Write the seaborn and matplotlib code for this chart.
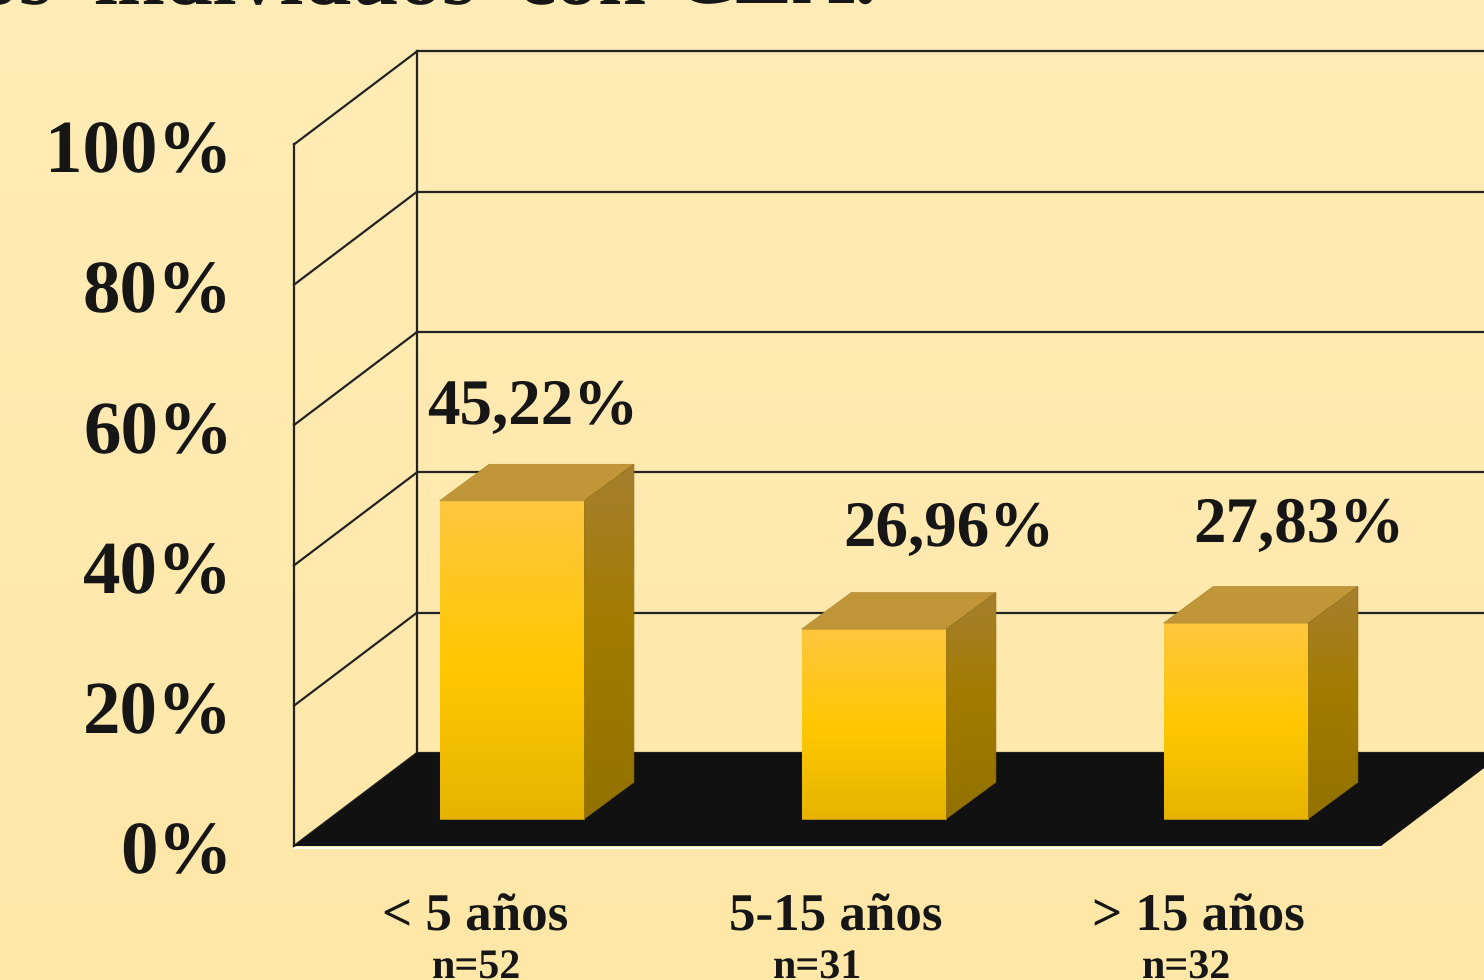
import numpy as np
import matplotlib
matplotlib.use('Agg')
import matplotlib.pyplot as plt
from matplotlib.colors import LinearSegmentedColormap
from matplotlib.patches import Polygon
from matplotlib.transforms import ScaledTranslation
import seaborn as sns

categories = ['< 5 años', '5-15 años', '> 15 años']
sample_sizes = ['n=52', 'n=31', 'n=32']
values = [45.22, 26.96, 27.83]
y_ticks = [0, 20, 40, 60, 80, 100]
title_words = ['los', 'individuos', 'con', 'CEA.']

# Pixel geometry of the picture
W, H = 1484, 980
PX_X = 362.0    # px per category
PX_Y = 7.03     # px per percent
X0_PX, Y0_PX = 512.0, 818.7   # first bar centre / bar baseline
DEPTH_X = 123.0 / PX_X
DEPTH_Y = 93.0 / PX_Y
D_BAR = 27.3 / 93.0     # depth of bar front inside the box
THICK_X = 49.5 / PX_X
THICK_Y = 36.5 / PX_Y
WALL_SCALE = 0.998      # the walls run a little tighter than the bars

INK = '#161616'

sns.set_theme(style='white')
plt.rcParams['font.family'] = ['Liberation Serif', 'DejaVu Serif']
plt.rcParams['font.weight'] = 'bold'
plt.rcParams['text.hinting'] = 'no_hinting'
plt.rcParams['text.hinting_factor'] = 1

fig = plt.figure(figsize=(W / 100, H / 100), dpi=100)

# Background, slightly darker towards the bottom
bg = fig.add_axes([0, 0, 1, 1], zorder=0)
bg.imshow(np.linspace(0, 1, 256).reshape(-1, 1), aspect='auto',
          cmap=LinearSegmentedColormap.from_list('bg', ['#FFECB6', '#FFE7A8']))
bg.axis('off')

ax = fig.add_axes([0, 0, 1, 1], zorder=1)
ax.patch.set_alpha(0)

sns.barplot(x=categories, y=values, width=0.4, color='#FFC800', ax=ax,
            saturation=1, zorder=5, edgecolor='#C49A14', linewidth=0.5)

xlim = (-X0_PX / PX_X, (W - X0_PX) / PX_X)
ylim = ((Y0_PX - H) / PX_Y, Y0_PX / PX_Y)


def project(x, v, d):
    # x in categories on the bar plane, v in percent, d depth in the box (0 front, 1 back)
    return x + (d - D_BAR) * DEPTH_X, v * WALL_SCALE + (d - D_BAR) * DEPTH_Y


# left and right end of the box floor, measured on the bar plane
box_left = (294 - X0_PX) / PX_X + D_BAR * DEPTH_X
box_right = (1381 - X0_PX) / PX_X + D_BAR * DEPTH_X

# floor
floor = [project(box_left, 0, 0), project(box_right, 0, 0),
         project(box_right, 0, 1), project(box_left, 0, 1)]
ax.add_patch(Polygon(floor, closed=True, fc='#111111', ec='none', zorder=2))
ax.plot(*zip(project(box_left, 0, 0), project(box_right, 0, 0)),
        color='white', lw=1.4, zorder=2, solid_capstyle='butt',
        transform=ax.transData + ScaledTranslation(0, -1.5 / 100, fig.dpi_scale_trans))

# walls and gridlines
grid_kw = dict(color='#222222', lw=1.6, zorder=1, solid_capstyle='projecting')
for t in y_ticks:
    ax.plot(*zip(project(box_left, t, 0), project(box_left, t, 1)), **grid_kw)
    ax.plot(*zip(project(box_left, t, 1), project(box_right, t, 1)), **grid_kw)
ax.plot(*zip(project(box_left, 0, 0), project(box_left, 100, 0)), **grid_kw)
ax.plot(*zip(project(box_left, 0, 1), project(box_left, 100, 1)), **grid_kw)

front_cmap = LinearSegmentedColormap.from_list(
    'front', [(0, '#FFC640'), (0.52, '#FFC800'), (1, '#E6B400')])
side_cmap = LinearSegmentedColormap.from_list(
    'side', [(0, '#A67F30'), (0.45, '#A27C00'), (1, '#937200')])
grad = np.linspace(0, 1, 256).reshape(-1, 1)

for bar in list(ax.patches):
    if bar.get_zorder() != 5:
        continue
    x0, x1, top = bar.get_x(), bar.get_x() + bar.get_width(), bar.get_height()
    im = ax.imshow(grad, cmap=front_cmap, aspect='auto', extent=(x0, x1, 0, top),
                   origin='upper', zorder=5.1)
    im.set_clip_path(bar)

    side = Polygon([(x1, 0), (x1 + THICK_X, THICK_Y), (x1 + THICK_X, top + THICK_Y), (x1, top)],
                   closed=True, fc='none', ec='#8a6c10', lw=0.5, zorder=5.3)
    ax.add_patch(side)
    im2 = ax.imshow(grad, cmap=side_cmap, aspect='auto',
                    extent=(x1, x1 + THICK_X, 0, top + THICK_Y), origin='upper', zorder=5.2)
    im2.set_clip_path(side)

    ax.add_patch(Polygon([(x0, top), (x1, top), (x1 + THICK_X, top + THICK_Y), (x0 + THICK_X, top + THICK_Y)],
                         closed=True, fc='#C09638', ec='#B08A30', lw=0.5, zorder=5.2))

ax.set_xlim(xlim)
ax.set_ylim(ylim)
ax.axis('off')


def px_text(x, y, s, size, **kw):
    kw.setdefault('ha', 'center')
    kw.setdefault('va', 'baseline')
    fig.text(x / W, 1 - y / H, s, fontsize=size, color=INK, fontweight='bold', zorder=10, **kw)


# y labels sit next to the front wall
for t in y_ticks:
    _, yv = project(box_left, t, 0)
    ypx = Y0_PX - yv * PX_Y
    px_text(233, ypx + 27.5, f'{t}%', 54, ha='right')

# value labels
label_px = [(533, 424), (949, 546), (1298.5, 542)]
for (lx, ly), v in zip(label_px, values):
    px_text(lx, ly, f'{v:.2f}%'.replace('.', ','), 46.5)

# category labels
cat_x = [475, 836, 1198]
n_x = [477, 818, 1187]
for cx, nx, c, n in zip(cat_x, n_x, categories, sample_sizes):
    px_text(cx, 930, c, 38.3)
    px_text(nx, 979, n, 30.5)

# title, cut off by the top edge, with wide word gaps
px_text(53, 4, title_words[0], 62, ha='right')
px_text(93, 4, title_words[1], 62, ha='left')
px_text(517, 4, title_words[2], 62, ha='left')
px_text(877, 4, title_words[3], 62, ha='right')

fig.savefig('out.png', dpi=100)
